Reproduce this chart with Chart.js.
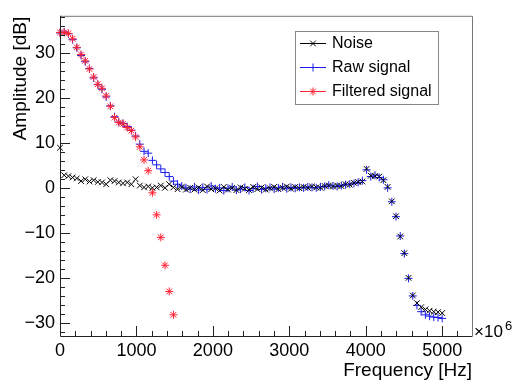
<!DOCTYPE html>
<html>
<head>
<meta charset="utf-8">
<script src="https://cdn.jsdelivr.net/npm/chart.js@4"></script>
<style>
  body { margin: 0; background: #fff; }
  #wrap { width: 514px; height: 382px; }
</style>
</head>
<body>
<div id="wrap"><canvas id="myChart" width="514" height="382"></canvas></div>
<script>
// frequency bins [Hz]
const freqHz = [0, 55, 110, 165, 220, 275, 330, 385, 440, 495,
  549, 604, 659, 714, 769, 824, 879, 934, 989, 1044,
  1099, 1154, 1209, 1264, 1319, 1374, 1429, 1484, 1538, 1593,
  1648, 1703, 1758, 1813, 1868, 1923, 1978, 2033, 2088, 2143,
  2198, 2253, 2308, 2363, 2418, 2473, 2527, 2582, 2637, 2692,
  2747, 2802, 2857, 2912, 2967, 3022, 3077, 3132, 3187, 3242,
  3297, 3352, 3407, 3462, 3516, 3571, 3626, 3681, 3736, 3791,
  3846, 3901, 3956, 4011, 4066, 4121, 4176, 4231, 4286, 4341,
  4396, 4451, 4505, 4560, 4615, 4670, 4725, 4780, 4835, 4890,
  4945, 5000];

// amplitudes [dB]
const noiseDb = [9.0, 2.9, 2.7, 2.4, 2.2, 1.6, 2.0, 1.5, 1.8, 1.4,
  1.3, 0.9, 1.8, 1.6, 1.3, 1.1, 1.3, 0.9, 2.0, 0.6,
  0.2, 0.4, 0.1, 0.2, 0.6, 0.1, 0.9, 0.2, -0.2, 0.3,
  -0.3, 0.1, -0.3, 0.2, -0.4, 0.4, -0.2, 0.0, -0.5, 0.3,
  -0.3, 0.1, -0.4, 0.2, -0.1, -0.4, 0.3, -0.2, 0.2, -0.3,
  0.0, 0.3, -0.2, 0.1, 0.4, -0.1, 0.3, 0.0, 0.3, 0.1,
  0.4, 0.2, 0.1, 0.5, 0.6, 0.4, 0.6, 0.5, 0.9, 0.8,
  1.2, 1.4, 1.5, 4.3, 2.8, 2.7, 2.6, 1.8, 0.3, -2.9,
  -6.2, -10.7, -14.4, -19.9, -23.8, -25.5, -26.4, -26.9, -27.2, -27.4,
  -27.5, -27.7];

const rawDb = [34.5, 34.7, 34.3, 33.0, 31.2, 29.5, 28.1, 26.6, 24.5, 23.0,
  22.0, 20.3, 18.3, 15.9, 14.7, 14.4, 13.7, 12.9, 11.6, 9.8,
  8.2, 7.8, 6.2, 5.2, 4.3, 3.5, 2.6, 1.6, 0.9, 0.5,
  0.1, -0.2, 0.3, -0.4, 0.2, -0.3, 0.5, -0.1, 0.1, -0.5,
  0.0, 0.3, -0.4, -0.2, 0.2, -0.5, -0.1, 0.4, -0.3, 0.0,
  0.2, -0.2, 0.1, 0.3, -0.1, 0.2, 0.0, 0.2, 0.1, 0.3,
  0.2, 0.1, 0.3, 0.4, 0.7, 0.5, 0.4, 0.6, 0.8, 0.9,
  1.1, 1.3, 1.7, 4.1, 2.6, 2.9, 2.4, 1.9, 0.1, -3.0,
  -6.3, -10.6, -14.5, -20.0, -23.9, -26.0, -27.4, -28.1, -28.4, -28.6,
  -28.7, -28.9];

const filteredDb = [34.6, 34.6, 34.4, 33.2, 31.3, 29.7, 28.3, 26.5, 24.7, 23.1,
  22.2, 20.5, 18.2, 15.7, 14.6, 14.3, 13.5, 12.8, 11.4, 9.2,
  6.3, 3.9, -1.0, -5.9, -10.9, -17.1, -22.9, -28.1];

const seriesNames = ["Noise", "Raw signal", "Filtered signal"];
const xTickLabels = [0, 1000, 2000, 3000, 4000, 5000];
const yTickLabels = [-30, -20, -10, 0, 10, 20, 30];

const fontFam = "'Liberation Sans', Arial, Helvetica, sans-serif";
const colors = ["#000000", "#1a1aee", "#ff2233"];
const styles = ["crossRot", "cross", "star"];

function toPoints(ys) {
    return ys.map((y, i) => ({ x: freqHz[i], y: y }));
}

// ROOT style frame, inward ticks, legend and axis titles
const rootFrame = {
    id: "rootFrame",
    afterDraw(chart) {
        const ctx = chart.ctx;
        const a = chart.chartArea;
        const xs = chart.scales.x;
        const ys = chart.scales.y;
        ctx.save();

        // frame
        ctx.lineWidth = 1;
        ctx.strokeStyle = "#777";
        ctx.beginPath();
        ctx.moveTo(a.left, a.top + 0.5);
        ctx.lineTo(a.right + 0.5, a.top + 0.5);
        ctx.lineTo(a.right + 0.5, a.bottom);
        ctx.stroke();
        ctx.strokeStyle = "#222";
        ctx.beginPath();
        ctx.moveTo(a.left + 0.5, a.top);
        ctx.lineTo(a.left + 0.5, a.bottom + 0.5);
        ctx.lineTo(a.right + 0.5, a.bottom + 0.5);
        ctx.stroke();

        // ticks
        ctx.beginPath();
        for (let v = -32; v <= 38; v += 2) {
            const y = Math.round(ys.getPixelForValue(v)) + 0.5;
            const len = (v % 10 === 0) ? 10 : 5;
            ctx.moveTo(a.left, y);
            ctx.lineTo(a.left + len, y);
        }
        for (let v = 0; v <= 5390; v += 200) {
            const x = Math.round(xs.getPixelForValue(v)) + 0.5;
            const len = (v % 1000 === 0) ? 10 : 5;
            ctx.moveTo(x, a.bottom);
            ctx.lineTo(x, a.bottom - len);
        }
        ctx.stroke();

        // axis titles
        ctx.fillStyle = "#000";
        ctx.font = "19px " + fontFam;
        ctx.textAlign = "right";
        ctx.textBaseline = "alphabetic";
        ctx.fillText("Frequency [Hz]", a.right, 376);
        ctx.save();
        ctx.translate(26, a.top + 1);
        ctx.rotate(-Math.PI / 2);
        ctx.fillText("Amplitude [dB]", 0, 0);
        ctx.restore();

        // exponent label
        ctx.textAlign = "left";
        ctx.font = "17px " + fontFam;
        ctx.fillText("\u00d710", a.right + 2, a.bottom + 1);
        ctx.font = "13px " + fontFam;
        ctx.fillText("6", a.right + 33, a.bottom - 6);

        // legend
        const bx = 295, by = 31, bw = 143, bh = 73;
        ctx.fillStyle = "#fff";
        ctx.fillRect(bx, by, bw, bh);
        ctx.strokeStyle = "#888";
        ctx.strokeRect(bx + 0.5, by + 0.5, bw, bh);
        const rows = [43, 67, 91];
        ctx.font = "16px " + fontFam;
        ctx.textBaseline = "middle";
        for (let i = 0; i < seriesNames.length; i++) {
            const y = rows[i];
            ctx.strokeStyle = colors[i];
            ctx.lineWidth = 1;
            ctx.beginPath();
            ctx.moveTo(300, y + 0.5);
            ctx.lineTo(326, y + 0.5);
            ctx.stroke();
            Chart.helpers.drawPoint(ctx, {
                pointStyle: styles[i], radius: 4, borderWidth: 1, rotation: 0
            }, 313, y + 0.5);
            ctx.fillStyle = "#000";
            ctx.fillText(seriesNames[i], 332, y + 1);
        }
        ctx.restore();
    }
};

const tickFont = { family: fontFam, size: 18 };

const myChart = new Chart(document.getElementById("myChart"), {
    type: "scatter",
    data: {
        datasets: [
            { label: seriesNames[0], data: toPoints(noiseDb), order: 1 },
            { label: seriesNames[1], data: toPoints(rawDb), order: 2 },
            { label: seriesNames[2], data: toPoints(filteredDb), order: 0 }
        ].map((d, i) => Object.assign(d, {
            pointStyle: styles[i],
            borderColor: colors[i],
            backgroundColor: colors[i],
            pointRadius: 4,
            pointBorderWidth: 1,
            showLine: false,
            clip: false
        }))
    },
    options: {
        responsive: false,
        animation: false,
        layout: { padding: { top: 7, right: 42, left: 0, bottom: 0 } },
        plugins: { legend: { display: false }, tooltip: { enabled: false } },
        scales: {
            x: {
                type: "linear",
                min: 0,
                max: 5390,
                grid: { display: false, drawTicks: false },
                border: { display: false },
                afterBuildTicks: s => { s.ticks = xTickLabels.map(v => ({ value: v })); },
                afterFit: s => { s.height = 46; },
                ticks: {
                    padding: 4, color: "#000", font: tickFont, maxRotation: 0, autoSkip: false,
                    callback: v => String(v)
                }
            },
            y: {
                min: -32.8,
                max: 38.3,
                grid: { display: false, drawTicks: false },
                border: { display: false },
                afterBuildTicks: s => { s.ticks = yTickLabels.map(v => ({ value: v })); },
                afterFit: s => { s.width = 60; },
                ticks: {
                    padding: 5, color: "#000", font: tickFont, autoSkip: false,
                    callback: v => v < 0 ? "\u2212" + Math.abs(v) : String(v)
                }
            }
        }
    },
    plugins: [rootFrame]
});
</script>
</body>
</html>
